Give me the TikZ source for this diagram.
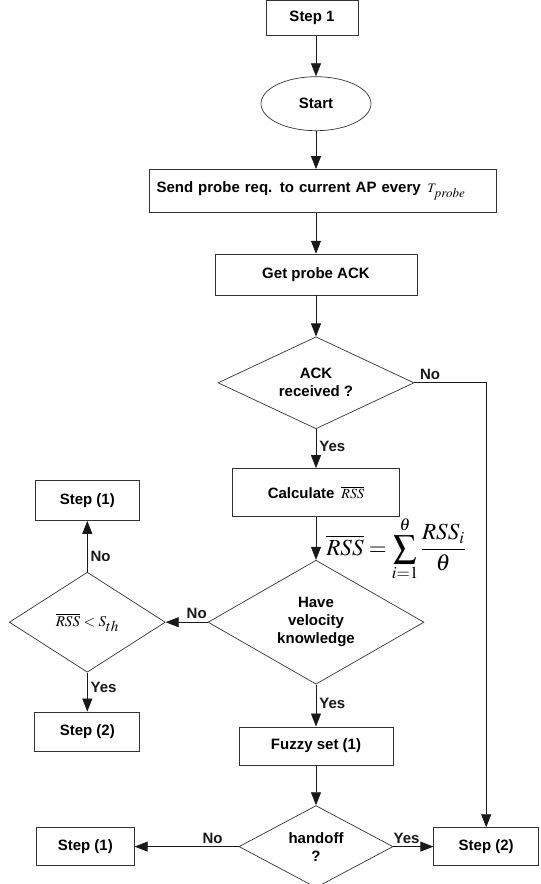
\documentclass[tikz,border=0pt]{standalone}
\usepackage{mathptmx}
\usepackage[no-math]{fontspec}
\setmainfont{Liberation Sans}
\usetikzlibrary{arrows.meta,shapes.geometric,positioning}

\begin{document}
\begin{tikzpicture}[
    x = 1pt, y = -1pt, % one unit = one pixel of the scan
    > = {Triangle[length=13pt,width=10pt]}, % arrow head style
    line width = 0.7pt, % line style
    font = \fontsize{15}{18}\selectfont\bfseries
    ]

    \tikzset{
    box/.style = {draw = black!80, rectangle, inner sep = 2pt},
    dec/.style = {draw = black!80, diamond, inner sep = 0pt, align = center},
    lbl/.style = {font = \fontsize{15}{17}\selectfont\bfseries, inner sep = 3pt},
    flow/.style = {->, black!90}
    }
    \useasboundingbox (0,0) rectangle (541,884);

    % main column
    \node[box, minimum width = 92pt, minimum height = 35pt] (step1) at (312,18) {Step 1};
    \node[ellipse, draw = black!80, minimum width = 110pt, minimum height = 54pt]
        (start) [below = 40.5pt of step1, xshift = 4pt] {Start};
    \node[box, minimum width = 347pt, minimum height = 43pt, text width = 333pt, align = left]
        (send) [below = 38pt of start, xshift = 7pt]
        {Send probe req. to current AP every\hspace{7pt}{\fontsize{13}{15}\selectfont$T_{\textstyle probe}$}};
    \node[box, minimum width = 202pt, minimum height = 41pt] (getack) [below = 41pt of send, xshift = -7pt] {Get probe ACK};
    \node[dec, minimum width = 196pt, minimum height = 92pt, aspect = 2.13] (ack) [below = 41pt of getack] {ACK\\received ?};
    \node[box, minimum width = 167pt, minimum height = 48pt] (calc) [below = 39pt of ack]
        {Calculate\hspace{7pt}{\fontsize{14}{16}\selectfont$\overline{RSS}$}};
    \node[dec, minimum width = 216pt, minimum height = 124pt, aspect = 1.74] (vel) [below = 43pt of calc] {Have\\velocity\\knowledge};
    \node[box, minimum width = 154pt, minimum height = 38pt] (fuzzy) [below = 42pt of vel] {Fuzzy set (1)};
    \node[dec, minimum width = 154pt, minimum height = 82pt, aspect = 1.88] (handoff) [below = 40pt of fuzzy] {handoff\\?};

    % averaging formula
    \node[inner sep = 0pt] (avg) at (396,549)
        {\fontsize{23}{28}\selectfont$\displaystyle\overline{RSS}=\sum_{i=1}^{\theta}\frac{RSS_i}{\theta}$};

    % left branch
    \node[dec, minimum width = 156pt, minimum height = 100pt, aspect = 1.56] (rss) [left = 42pt of vel]
        {\fontsize{15}{18}\selectfont$\overline{RSS}<S_{\textstyle th}$};
    \node[box, minimum width = 104pt, minimum height = 40pt] (stepA) [above = 51pt of rss] {Step (1)};
    \node[box, minimum width = 105pt, minimum height = 39pt] (stepB) [below = 39pt of rss] {Step (2)};

    % bottom row
    \node[box, minimum width = 98pt, minimum height = 38pt] (stepC) [left = 104pt of handoff] {Step (1)};
    \node[box, minimum width = 105pt, minimum height = 38pt] (stepD) [right = 40pt of handoff] {Step (2)};

    \draw[flow] (start |- step1.south) -- (start);
    \draw[flow] (start) -- (start |- send.north);
    \draw[flow] (getack |- send.south) -- (getack);
    \draw[flow] (getack) -- (ack);
    \draw[flow] (ack) -- node[lbl, right, pos = 0.45]{Yes} (calc);
    \draw[flow] (ack.east) -| node[lbl, above, pos = 0.11]{No} (stepD);
    \draw[flow] (calc) -- (vel);
    \draw[flow] (vel) -- node[lbl, above, pos = 0.26]{No} (rss);
    \draw[flow] (rss) -- node[lbl, right, pos = 0.3]{No} (stepA);
    \draw[flow] (rss) -- node[lbl, right, pos = 0.38]{Yes} (stepB);
    \draw[flow] (vel) -- node[lbl, right, pos = 0.45]{Yes} (fuzzy);
    \draw[flow] (fuzzy) -- (handoff);
    \draw[flow] (handoff) -- node[lbl, above, pos = 0.25]{No} (stepC);
    \draw[flow] (handoff) -- node[lbl, above, pos = 0.33]{Yes} (stepD);
\end{tikzpicture}
\end{document}
